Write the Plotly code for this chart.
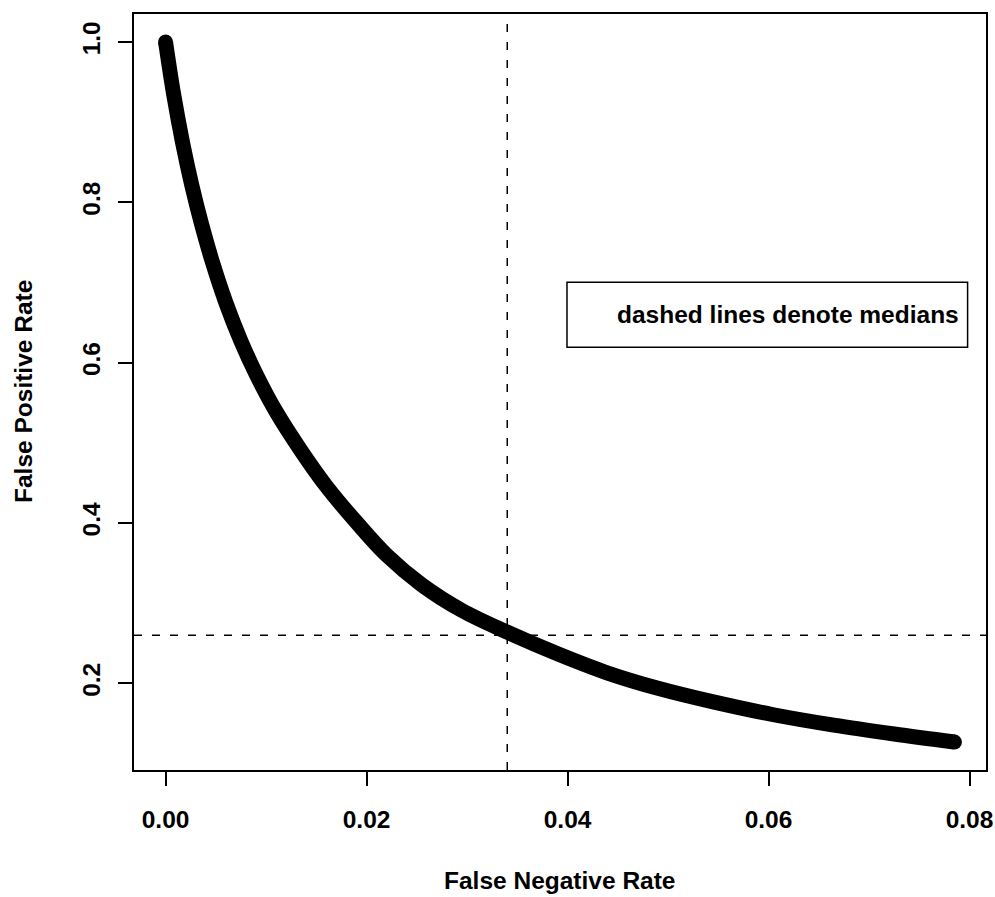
import plotly.graph_objects as go

# False Negative Rate (x) and False Positive Rate (y)
fnr = [0.0, 0.0008, 0.0017, 0.0026, 0.0036, 0.0047, 0.006, 0.0075, 0.009,
       0.011, 0.0135, 0.016, 0.019, 0.022, 0.0255, 0.0295, 0.034, 0.039,
       0.044, 0.049, 0.0545, 0.0605, 0.0665, 0.0725, 0.0785]
fpr = [1.0, 0.935, 0.874, 0.822, 0.772, 0.724, 0.675, 0.627, 0.586,
       0.539, 0.490, 0.446, 0.401, 0.360, 0.323, 0.291, 0.264, 0.237,
       0.213, 0.194, 0.177, 0.161, 0.148, 0.137, 0.127]

median_fnr = 0.034
median_fpr = 0.26

x_ticks = [0.0, 0.02, 0.04, 0.06, 0.08]
x_ticklabels = ["0.00", "0.02", "0.04", "0.06", "0.08"]
y_ticks = [0.2, 0.4, 0.6, 0.8, 1.0]
y_ticklabels = ["0.2", "0.4", "0.6", "0.8", "1.0"]

legend_text = "dashed lines denote medians"
x_title = "False Negative Rate"
y_title = "False Positive Rate"

FONT = "Liberation Sans, Arial, Helvetica, sans-serif"
FSIZE = 24.5
tfont = dict(family=FONT, size=FSIZE, color="black", weight="bold")

# R-style range extension (4% each side)
xr = [min(fnr), max(fnr)]
yr = [min(fpr), max(fpr)]
dx = (xr[1] - xr[0]) * 0.04
dy = (yr[1] - yr[0]) * 0.04
x_range = [xr[0] - dx, xr[1] + dx]
y_range = [yr[0] - dy, yr[1] + dy]

fig = go.Figure()
fig.add_trace(go.Scatter(
    x=fnr, y=fpr, mode="lines",
    line=dict(color="black", width=15, shape="spline", smoothing=1.0),
    hoverinfo="skip", showlegend=False,
))
# round end caps
fig.add_trace(go.Scatter(
    x=[fnr[0], fnr[-1]], y=[fpr[0], fpr[-1]], mode="markers",
    marker=dict(color="black", size=15, line=dict(width=0)),
    hoverinfo="skip", showlegend=False,
))

fig.add_shape(type="line", xref="x", yref="paper", x0=median_fnr, x1=median_fnr,
              y0=0, y1=1, line=dict(color="black", width=1.5, dash="8px,10px"))
fig.add_shape(type="line", xref="paper", yref="y", x0=0, x1=1,
              y0=median_fpr, y1=median_fpr,
              line=dict(color="black", width=1.5, dash="8px,10px"))

# legend box
fig.add_shape(type="rect", xref="paper", yref="paper",
              x0=0.5082, x1=0.9784, y0=0.5591, y1=0.6451,
              line=dict(color="black", width=1.5), fillcolor="white")
fig.add_annotation(xref="paper", yref="paper", x=0.9707, y=0.6019,
                   text=legend_text, showarrow=False, xanchor="right",
                   yanchor="middle", font=tfont)

# axis titles
fig.add_annotation(xref="paper", yref="paper", x=0.5, y=0, yshift=-110,
                   text=x_title, showarrow=False, xanchor="center", yanchor="middle",
                   font=tfont)
fig.add_annotation(xref="paper", yref="paper", x=0, y=0.5, xshift=-111,
                   text=y_title, showarrow=False, textangle=-90,
                   xanchor="center", yanchor="middle", font=tfont)

axis_common = dict(
    showgrid=False, zeroline=False, showline=True, linecolor="black", linewidth=1.5,
    mirror=True, ticks="outside", ticklen=14, tickwidth=1.5, tickcolor="black",
    tickfont=tfont, automargin=False,
)
fig.update_xaxes(range=x_range, tickvals=x_ticks, ticktext=x_ticklabels,
                 ticklabelstandoff=13, **axis_common)
fig.update_yaxes(range=y_range, tickvals=y_ticks, ticktext=y_ticklabels,
                 tickangle=-90, ticklabelstandoff=8, **axis_common)

fig.update_layout(
    width=995, height=897,
    margin=dict(l=134, r=9, t=14, b=127),
    plot_bgcolor="white", paper_bgcolor="white",
    showlegend=False,
)

fig.write_html("out.html")
